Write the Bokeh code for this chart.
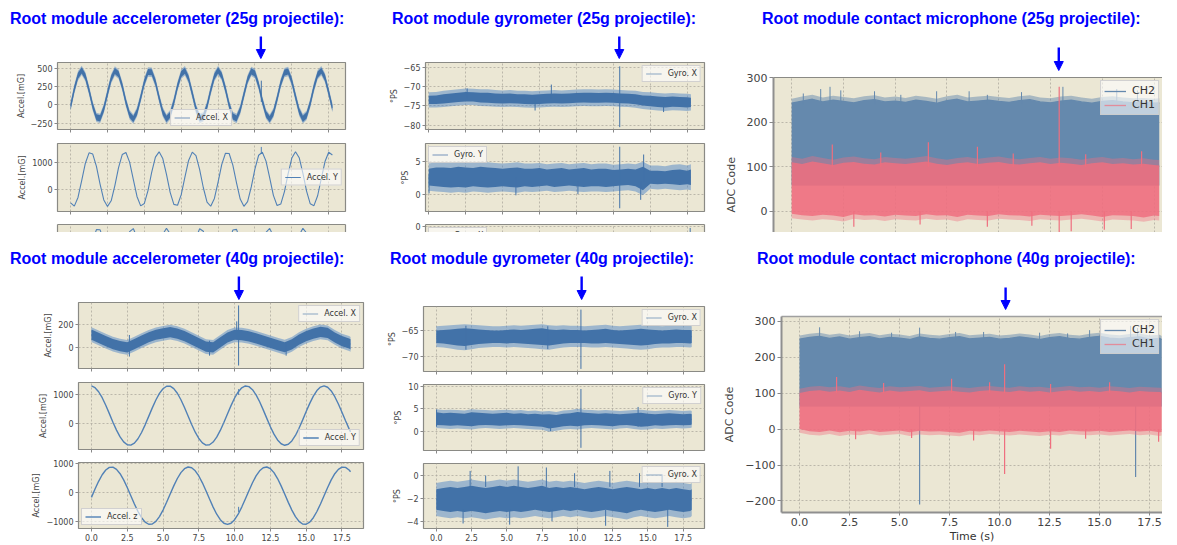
from bokeh.plotting import figure
from bokeh.layouts import row, column
from bokeh.models import (Div, Spacer, Range1d, FixedTicker, LinearAxis, Legend, LegendItem,
                          Arrow, NormalHead, PrintfTickFormatter, CustomJSTickFormatter,
                          CustomLabelingPolicy)
from bokeh.embed import file_html
from bokeh.resources import INLINE

# ---------------------------------------------------------------- data
XT = [0, 2.5, 5, 7.5, 10, 12.5, 15, 17.5]
T25 = [round(0.25 * i, 2) for i in range(72)]            # 0 .. 17.75 s  (25 g run)
T40 = [round(0.25 * i, 2) for i in range(73)] + [18.1]   # 0 .. 18.1 s   (40 g run)
B25 = [0.5 * i for i in range(36)] + [17.75]
B40 = [0.5 * i for i in range(37)] + [18.1]
ARROW_T_25 = 12.9
ARROW_T_40 = 10.3

# accelerometer 25 g
ACC25_X = [-20, 215, 397, 470, 386, 198, -17, -170, -185, -52, 156, 357, 462, 420, 255, 38,
           -135, -195, -98, 97, 309, 448, 445, 309, 96, -98, -192, -135, 39, 256, 421, 465,
           356, 155, -53, -182, -163, -16, 199, 387, 470, 396, 214, -2, -157, -186, -66, 140,
           345, 457, 428, 270, 54, -126, -195, -109, 81, 296, 440, 455, 322, 112, -87, -190,
           -144, 24, 241, 413, 465, 368, 171, -41]
ACC25_X_HALF = 42
ACC25_X_FRINGE = 22
ACC25_X_SPK = ([12.93], [40], [330])
ACC25_Y = [-488, -608, -291, 322, 962, 1343, 1299, 848, 191, -384, -620, -414, 143, 804, 1279, 1355,
           1001, 371, -254, -599, -511, -30, 634, 1184, 1379, 1132, 552, -103, -545, -578, -188, 453,
           1063, 1370, 1239, 729, 64, -461, -614, -327, 272, 919, 1328, 1318, 892, 241, -349, -617,
           -444, 94, 758, 1255, 1365, 1040, 422, -213, -587, -533, -76, 584, 1153, 1380, 1165, 603,
           -57, -525, -592, -229, 403, 1024, 1362, 1265]
ACC25_Y_SPK = ([12.93], [1300], [1560])
ACC25_Z = [238, -419, -942, -1095, -813, -220, 421, 828, 820, 401, -245, -830, -1097, -928, -396, 261,
           754, 866, 546, -65, -695, -1066, -1015, -564, 89, 653, 880, 669, 115, -541, -1004, -1073,
           -716, -91, 526, 861, 767, 285, -371, -913, -1099, -848, -270, 377, 811, 835, 443, -194,
           -794, -1092, -955, -446, 214, 729, 873, 583, -13, -654, -1052, -1035, -608, 38, 620, 878,
           699, 163, -494, -981, -1083, -754, -141, 486]

# gyrometer 25 g
GYR25_X_U = [-72.4, -72.3, -72.0, -71.8, -71.6, -71.4, -71.5, -71.6, -71.6, -71.8, -71.9, -71.8, -72.0,
             -72.0, -72.1, -72.0, -71.9, -71.8, -71.9, -71.8, -71.7, -71.6, -71.6, -71.7, -71.6, -71.7,
             -71.8, -71.9, -72.0, -72.3, -72.4, -72.6, -72.7, -72.6, -72.7, -72.8, -72.9]
GYR25_X_L = [-74.5, -74.5, -74.4, -74.2, -74.0, -73.9, -73.9, -74.1, -74.2, -74.3, -74.4, -74.3, -74.4,
             -74.5, -74.6, -74.5, -74.4, -74.3, -74.4, -74.3, -74.2, -74.1, -74.2, -74.2, -74.1, -74.2,
             -74.3, -74.4, -74.6, -74.9, -75.1, -75.3, -75.4, -75.2, -75.3, -75.4, -75.3]
GYR25_X_FRINGE = 0.9
GYR25_X_SPK = ([12.93, 8.3, 7.2, 15.9, 2.6], [-80.5, -73.0, -76.2, -76.6, -73.0], [-64.8, -69.5, -73.0, -74.5, -70.5])
GYR25_Y_U = [3.9, 4.1, 4.1, 4.0, 4.2, 4.1, 4.0, 4.2, 4.1, 4.0, 3.9, 4.0, 4.1, 3.9, 3.9, 4.0, 3.8, 3.9, 4.0,
             3.8, 3.9, 4.0, 3.8, 3.9, 3.9, 3.7, 3.8, 3.9, 3.8, 4.2, 3.6, 3.6, 3.5, 3.7, 3.8, 3.6, 3.8]
GYR25_Y_L = [1.3, 1.2, 1.1, 1.0, 1.1, 1.0, 1.2, 1.1, 1.0, 1.1, 1.2, 1.1, 1.0, 1.2, 1.1, 1.2, 1.3, 1.1, 1.2,
             1.3, 1.2, 1.1, 1.2, 1.2, 1.1, 1.2, 1.3, 1.4, 1.2, 0.6, 1.6, 1.5, 1.6, 1.5, 1.4, 1.5, 1.4]
GYR25_Y_FRINGE = 0.8
GYR25_Y_SPK = ([12.93, 14.55, 14.35, 0.02, 5.9, 10.1], [-2.2, 2.0, -0.9, 0.1, -0.2, 0.0], [7.3, 6.1, 2.0, 3.0, 2.5, 2.0])
GYR25_Z_U = [-1.1, -1.2, -1.0, -1.1, -1.2, -1.1, -1.0, -1.1, -1.2, -1.1, -1.0, -1.1, -1.2, -1.1, -1.0, -1.1,
             -1.2, -1.1, -1.0, -1.1, -1.2, -1.1, -1.0, -1.1, -1.2, -1.1, -1.0, -1.1, -1.2, -1.1, -1.0, -1.1,
             -1.2, -1.1, -1.0, -1.1, -1.0]
GYR25_Z_L = [-3.0, -3.1, -3.2, -3.1, -3.0, -3.1, -3.2, -3.1, -3.0, -3.1, -3.2, -3.1, -3.0, -3.1, -3.2, -3.1,
             -3.0, -3.1, -3.2, -3.1, -3.0, -3.1, -3.2, -3.1, -3.0, -3.1, -3.2, -3.1, -3.0, -3.1, -3.2, -3.1,
             -3.0, -3.1, -3.2, -3.1, -3.0]
GYR25_Z_SPK = ([17.7], [-1.2], [-0.1])

# contact microphone 25 g
MIC25_CH2_TOP = [243, 248, 252, 246, 250, 247, 244, 249, 251, 246, 248, 245, 250, 247, 243, 249, 252, 246, 248,
                 250, 247, 245, 249, 251, 246, 244, 248, 250, 246, 243, 247, 249, 246, 244, 245, 243, 244]
MIC25_CH2_FLOOR = 58
MIC25_CH1_TOP = [110, 106, 112, 108, 104, 109, 111, 107, 105, 110, 108, 106, 109, 112, 107, 104, 108, 110, 106,
                 109, 111, 107, 105, 108, 110, 106, 109, 107, 104, 108, 110, 106, 108, 105, 107, 104, 103]
MIC25_CH1_BOT = [-6, -9, -11, -8, -10, -13, -7, -10, -9, -12, -8, -10, -11, -7, -10, -9, -13, -8, -10,
                 -11, -7, -9, -10, -12, -8, -10, -11, -9, -7, -10, -13, -9, -10, -11, -14, -10, -11]
MIC25_CH2_UP_T = [0.56, 1.4, 1.85, 2.37, 4.0, 5.27, 7.0, 8.57, 9.45, 11.1, 13.1, 15.7, 16.7]
MIC25_CH2_UP_V = [265, 275, 280, 272, 270, 262, 270, 270, 262, 268, 280, 275, 272]
MIC25_CH1_UP_T = [1.96, 6.6, 8.97, 10.7, 16.9, 4.3, 14.2, 12.92]
MIC25_CH1_UP_V = [150, 155, 145, 130, 135, 132, 128, 280]
MIC25_CH1_DN_T = [13.5, 15.1, 16.4, 9.45, 3.0, 6.2, 11.6, 12.92]
MIC25_CH1_DN_V = [-45, -42, -40, -35, -35, -30, -33, -48]

# accelerometer 40 g
ACC40_X = [113, 85, 55, 30, 12, 0, 30, 60, 90, 112, 125, 135, 122, 100, 70, 38, 8, 0, 45, 88,
           112, 108, 98, 80, 60, 40, 20, 2, 28, 70, 100, 122, 138, 128, 88, 55, 35, 28]
ACC40_X_HALF = 45
ACC40_X_FRINGE = 20
ACC40_X_SPK = ([10.28, 10.15, 2.65, 8.25, 13.6], [-159, 80, -80, -72, -72], [370, 230, 110, 60, 40])
ACC40_Y = [1288, 1229, 1089, 882, 623, 333, 38, -236, -471, -644, -741, -755, -684, -534, -318, -54,
           238, 532, 803, 1030, 1193, 1279, 1280, 1198, 1038, 812, 543, 251, -41, -308, -526, -679,
           -754, -744, -649, -480, -248, 27, 321, 610, 872, 1082, 1225, 1288, 1265, 1160, 981, 742,
           463, 169, -119, -375, -577, -708, -760, -725, -609, -421, -175, 108, 404, 687, 936, 1129,
           1251, 1290, 1244, 1117, 918, 667, 381, 86, -194, -298]
ACC40_Y_SPK = ([10.28], [980], [1180])
ACC40_Z = [-173, 115, 383, 609, 775, 865, 873, 798, 647, 431, 170, -115, -401, -662, -877, -1028,
           -1103, -1095, -1004, -838, -613, -344, -56, 225, 480, 684, 820, 878, 853, 747, 568, 331,
           58, -231, -510, -755, -947, -1068, -1110, -1068, -946, -755, -509, -229, 58, 332, 569, 747,
           853, 878, 820, 683, 478, 225, -57, -346, -613, -839, -1004, -1095, -1103, -1028, -877, -661,
           -400, -115, 171, 433, 647, 798, 873, 865, 774, 716]
ACC40_Z_SPK = ([10.28], [-680], [-500])

# gyrometer 40 g
GYR40_X_U = [-64.9, -64.8, -64.7, -64.6, -64.5, -64.6, -64.7, -64.8, -64.9, -64.9, -64.8, -64.7, -64.8,
             -64.7, -64.6, -64.5, -64.7, -64.8, -64.7, -64.8, -64.8, -64.9, -64.8, -64.7, -64.6, -64.8,
             -64.9, -64.8, -64.7, -64.6, -64.7, -64.8, -64.9, -64.8, -64.7, -64.8, -64.8, -64.9]
GYR40_X_L = [-67.3, -67.4, -67.6, -67.8, -67.9, -67.7, -67.5, -67.4, -67.3, -67.3, -67.4, -67.3, -67.4,
             -67.5, -67.6, -67.7, -67.8, -67.6, -67.4, -67.3, -67.3, -67.3, -67.4, -67.4, -67.3, -67.4,
             -67.5, -67.6, -67.7, -67.8, -67.7, -67.5, -67.4, -67.4, -67.3, -67.3, -67.4, -67.3]
GYR40_X_FRINGE = 0.8
GYR40_X_SPK = ([10.25, 2.1, 7.9], [-72.3, -68.6, -68.5], [-60.9, -64.0, -64.1])
GYR40_Y_U = [4.2, 4.0, 4.1, 4.0, 3.9, 4.2, 4.1, 4.0, 3.9, 4.0, 4.1, 3.9, 4.0, 3.8, 3.9, 3.7, 3.8, 3.6, 3.9,
             4.0, 4.3, 4.1, 4.0, 3.9, 4.0, 3.9, 3.8, 3.9, 4.0, 4.1, 3.9, 3.8, 3.9, 4.0, 3.9, 3.8, 3.9, 3.8]
GYR40_Y_L = [1.4, 1.3, 1.2, 1.3, 1.2, 1.1, 1.3, 1.4, 1.3, 1.2, 1.3, 1.4, 1.3, 1.2, 1.1, 1.0, 0.6, 0.8, 1.1,
             1.2, 1.1, 1.3, 1.4, 1.3, 1.2, 1.1, 1.3, 1.4, 1.2, 1.0, 1.1, 1.3, 1.2, 1.3, 1.4, 1.3, 1.4, 1.5]
GYR40_Y_FRINGE = 0.7
GYR40_Y_SPK = ([10.25, 0.02, 8.1, 14.3], [-3.7, 1.0, 0.0, 1.0], [9.4, 4.8, 2.0, 5.4])
GYR40_Z_U = [-1.2, -1.1, -1.0, -1.1, -1.0, -0.9, -1.0, -1.1, -1.0, -0.9, -1.0, -0.9, -1.0, -1.1, -1.0, -0.9,
             -1.1, -1.0, -1.1, -1.0, -1.1, -1.2, -1.1, -1.0, -1.1, -1.2, -1.1, -1.0, -1.1, -1.2, -1.1, -1.2,
             -1.1, -1.2, -1.1, -1.2, -1.3, -1.2]
GYR40_Z_L = [-3.0, -3.1, -3.2, -3.1, -3.2, -3.1, -3.2, -3.3, -3.2, -3.1, -3.2, -3.1, -3.2, -3.1, -3.0, -3.1,
             -3.2, -3.1, -3.0, -3.1, -3.0, -3.1, -3.2, -3.1, -3.0, -3.1, -3.2, -3.3, -3.1, -3.0, -3.1, -3.2,
             -3.1, -3.0, -3.1, -3.2, -3.1, -3.0]
GYR40_Z_FRINGE = 0.55
GYR40_Z_SPK = ([2.4, 5.8, 7.8, 9.8, 12.3, 14.4, 3.5, 16.0, 1.9, 5.2, 12.0, 16.4, 8.2],
               [-1.0, -1.0, -1.0, -1.0, -1.0, -1.0, -1.0, -1.0, -3.0, -3.0, -3.0, -3.0, -3.0],
               [0.4, 0.8, 0.7, 0.2, 0.4, 0.2, 0.0, 0.1, -4.2, -4.3, -4.4, -4.5, -4.0])

# contact microphone 40 g
MIC40_CH2_TOP = [250, 255, 258, 252, 256, 250, 254, 257, 251, 255, 253, 249, 256, 252, 250, 254, 257, 251, 253,
                 255, 250, 252, 256, 253, 249, 254, 257, 252, 250, 255, 258, 253, 251, 254, 256, 250, 252, 249]
MIC40_CH2_FLOOR = 63
MIC40_CH1_TOP = [100, 106, 108, 104, 107, 103, 109, 105, 102, 107, 104, 106, 108, 103, 105, 107, 104, 102, 106,
                 108, 105, 103, 107, 104, 106, 102, 105, 108, 104, 106, 103, 107, 105, 102, 106, 104, 103, 102]
MIC40_CH1_BOT = [0, -6, -8, -4, -9, -5, -7, -3, -8, -6, -4, -9, -5, -7, -6, -8, -10, -5, -7,
                 -4, -6, -8, -5, -7, -9, -6, -8, -4, -6, -7, -5, -8, -6, -4, -7, -5, -9, -8]
MIC40_CH2_UP_T = [1.0, 3.0, 4.6, 6.0, 7.8, 9.2, 12.0, 13.4, 14.5, 16.55, 16.9]
MIC40_CH2_UP_V = [283, 272, 268, 282, 270, 270, 268, 266, 275, 287, 281]
MIC40_CH2_DN_T = [6.0, 16.8]
MIC40_CH2_DN_V = [-210, -133]
MIC40_CH1_UP_T = [1.85, 7.6, 9.5, 12.55, 15.5, 4.2, 10.25]
MIC40_CH1_UP_V = [145, 140, 130, 125, 130, 128, 180]
MIC40_CH1_DN_T = [10.25, 12.55, 2.8, 8.7, 17.95, 5.6, 14.3]
MIC40_CH1_DN_V = [-125, -55, -28, -32, -35, -25, -27]

# ---------------------------------------------------------------- styles
TB = "#0000ff"
BEIGE = "#ebe7d4"
GRIDC = "#aeaba0"
FRAME = "#8a8a85"
BLUE = "#4272a8"
FRINGE = "#4f86c6"
YLINE = "#5181b6"
MBLUE = "#6589ad"
MRED = "#ef6f7f"
FONT = "DejaVu Sans"
MINUS = CustomJSTickFormatter(code="return tick < 0 ? '\\u2212' + String(-tick) : String(tick);")
NO_LABELS = CustomLabelingPolicy(code="return []")


def fig(w, h, xr, yr, l, r, t, b, xaxis=True, outline=True):
    p = figure(width=w, height=h, x_range=xr, y_range=Range1d(*yr),
               output_backend="svg", toolbar_location=None,
               x_axis_location=("below" if xaxis else None),
               min_border_left=l, min_border_right=r, min_border_top=t, min_border_bottom=b,
               background_fill_color=BEIGE, border_fill_color="white")
    p.outline_line_color = FRAME if outline else None
    p.outline_line_width = 1.2
    p.xgrid.ticker = FixedTicker(ticks=XT)
    for g in (p.xgrid, p.ygrid):
        g.grid_line_color = GRIDC
        g.grid_line_dash = "2 2"
        g.grid_line_width = 0.8
    return p


def header(w, h, xr, l, r, x, tail_px, tip_px):
    """White strip above a panel holding the impact arrow, on the panel's own time scale."""
    p = figure(width=w, height=h, x_range=xr, y_range=Range1d(0, h),
               output_backend="svg", toolbar_location=None,
               x_axis_location=None, y_axis_location=None,
               min_border_left=l, min_border_right=r, min_border_top=0, min_border_bottom=0,
               background_fill_color="white", border_fill_color="white")
    p.outline_line_color = None
    p.grid.visible = False
    p.add_layout(Arrow(end=NormalHead(size=9, fill_color=TB, line_color=TB, line_width=1),
                       x_start=x, y_start=h - tail_px, x_end=x, y_end=h - tip_px,
                       line_color=TB, line_width=2.4))
    return p


def yax(p, ticks, label=None, size="8px", line=False):
    ax = p.yaxis[0]
    ax.ticker = FixedTicker(ticks=ticks)
    ax.formatter = MINUS
    p.ygrid.ticker = FixedTicker(ticks=ticks)
    ax.axis_line_color = FRAME if line else None
    ax.axis_line_width = 1.6
    ax.major_tick_line_color = "#888888"
    ax.major_tick_out = 3
    ax.major_tick_in = 0
    ax.minor_tick_line_color = None
    ax.major_label_text_font = FONT
    ax.major_label_text_font_size = size
    ax.major_label_text_color = "#444444"
    ax.major_label_standoff = 2
    if label:
        ax.axis_label = label
        ax.axis_label_text_font = FONT
        ax.axis_label_text_font_size = size
        ax.axis_label_text_font_style = "normal"
        ax.axis_label_text_color = "#444444"
        ax.axis_label_standoff = 2


def xax(p, labels=False, size="8px", label=None, line=False):
    ax = p.xaxis[0]
    ax.ticker = FixedTicker(ticks=XT)
    ax.axis_line_color = FRAME if line else None
    ax.axis_line_width = 1.6
    ax.major_tick_line_color = "#888888"
    ax.major_tick_out = 3
    ax.major_tick_in = 0
    ax.minor_tick_line_color = None
    if labels:
        ax.formatter = PrintfTickFormatter(format="%.1f")
        ax.major_label_text_font = FONT
        ax.major_label_text_font_size = size
        ax.major_label_text_color = "#444444"
        ax.major_label_standoff = 2
    else:
        ax.major_label_policy = NO_LABELS
        ax.major_label_text_font_size = "0px"
        ax.major_label_standoff = 0
    if label:
        ax.axis_label = label
        ax.axis_label_text_font = FONT
        ax.axis_label_text_font_size = size
        ax.axis_label_text_font_style = "normal"
        ax.axis_label_text_color = "#333333"
        ax.axis_label_standoff = 1


def spine(p, place, color=FRAME, width=1.2):
    ax = LinearAxis(ticker=FixedTicker(ticks=[]), axis_line_color=color, axis_line_width=width,
                    major_tick_line_color=None, minor_tick_line_color=None, major_tick_out=0,
                    major_tick_in=0, major_label_text_font_size="0px", major_label_standoff=0)
    p.add_layout(ax, place)


def legend(p, items, loc, size="8px", gw=16, lh=9):
    lg = Legend(items=[LegendItem(label=lab, renderers=[r]) for lab, r in items], location=loc)
    lg.label_text_font = FONT
    lg.label_text_font_size = size
    lg.label_text_color = "#333333"
    lg.background_fill_color = "white"
    lg.background_fill_alpha = 0.6
    lg.border_line_color = "#cccccc"
    lg.border_line_alpha = 0.9
    lg.padding = 3
    lg.margin = 3
    lg.spacing = 1
    lg.glyph_width = gw
    lg.glyph_height = lh
    lg.label_height = lh
    lg.label_standoff = 6
    p.add_layout(lg)


def band(p, x, lo, hi, fringe):
    p.varea(x=x, y1=[v - fringe for v in lo], y2=[v + fringe for v in hi],
            fill_color=FRINGE, fill_alpha=0.5)
    p.varea(x=x, y1=lo, y2=hi, fill_color=BLUE, fill_alpha=1.0)


def noisy(p, x, lo, hi, fringe, spk):
    mid = [(a + b) / 2 for a, b in zip(lo, hi)]
    r = p.line(x, mid, line_color=BLUE, line_width=1.2, line_alpha=0.6)
    band(p, x, lo, hi, fringe)
    p.segment(x0=spk[0], y0=spk[1], x1=spk[0], y1=spk[2], line_color=BLUE, line_width=1.0)
    return r


def title_div(text, w, pad):
    html = ('<div style="font-family:\'Liberation Sans\',Arial,sans-serif;font-size:16px;'
            'font-weight:bold;color:%s;line-height:22px;white-space:nowrap;padding-left:%dpx">%s</div>'
            % (TB, pad, text))
    return Div(text=html, width=w, height=22, margin=(0, 0, 0, 0))


# ---------------------------------------------------------------- top row (25 g)
XR25A = Range1d(-0.89, 18.64)
XR25G = Range1d(-0.22, 18.67)
XR25M = Range1d(-0.88, 17.91)
MIC_W = 442

hAX25 = header(380, 29, XR25A, 57, 35, ARROW_T_25, 6, 28)
fAX25 = fig(380, 77, XR25A, (-336, 578), 57, 35, 3, 7)
c = fAX25.line(T25, ACC25_X, line_color=BLUE, line_width=1.2, line_alpha=0.6)
band(fAX25, T25, [v - ACC25_X_HALF for v in ACC25_X], [v + ACC25_X_HALF for v in ACC25_X], ACC25_X_FRINGE)
fAX25.segment(x0=ACC25_X_SPK[0], y0=ACC25_X_SPK[1], x1=ACC25_X_SPK[0], y1=ACC25_X_SPK[2], line_color=BLUE)
yax(fAX25, [-250, 0, 250, 500], "Accel.[mG]")
xax(fAX25)
legend(fAX25, [("Accel. X", c)], "bottom_center")

fAY25 = fig(380, 81, XR25A, (-806, 1685), 57, 35, 7, 6)
c = fAY25.line(T25, ACC25_Y, line_color=YLINE, line_width=1.1)
fAY25.segment(x0=ACC25_Y_SPK[0], y0=ACC25_Y_SPK[1], x1=ACC25_Y_SPK[0], y1=ACC25_Y_SPK[2], line_color=YLINE)
yax(fAY25, [0, 1000], "Accel.[mG]")
xax(fAY25)
legend(fAY25, [("Accel. Y", c)], "center_right")

fAZ25 = fig(380, 15, XR25A, (722, 1015), 57, 35, 7, 0, xaxis=False, outline=False)
fAZ25.line(T25, ACC25_Z, line_color=YLINE, line_width=1.1)
yax(fAZ25, [], None, line=True)
fAZ25.yaxis[0].axis_line_width = 1.2
spine(fAZ25, "above")
spine(fAZ25, "right")

hGX25 = header(340, 29, XR25G, 45, 16, ARROW_T_25, 6, 28)
fGX25 = fig(340, 77, XR25G, (-81.1, -63.8), 45, 16, 3, 7)
c = noisy(fGX25, B25, GYR25_X_L, GYR25_X_U, GYR25_X_FRINGE, GYR25_X_SPK)
yax(fGX25, [-80, -75, -70, -65], "°PS")
xax(fGX25)
legend(fGX25, [("Gyro. X", c)], "top_right")

fGY25 = fig(340, 81, XR25G, (-2.7, 7.8), 45, 16, 7, 6)
c = noisy(fGY25, B25, GYR25_Y_L, GYR25_Y_U, GYR25_Y_FRINGE, GYR25_Y_SPK)
yax(fGY25, [0, 5], "°PS")
xax(fGY25)
legend(fGY25, [("Gyro. Y", c)], "top_left")

fGZ25 = fig(340, 15, XR25G, (-0.5, 0.2), 45, 16, 7, 0, xaxis=False, outline=False)
c = noisy(fGZ25, B25, GYR25_Z_L, GYR25_Z_U, 0.5, GYR25_Z_SPK)
yax(fGZ25, [0], None, line=True)
fGZ25.yaxis[0].axis_line_width = 1.2
spine(fGZ25, "above")
spine(fGZ25, "right")
legend(fGZ25, [("Gyro. X", c)], "top_left")

hM25 = header(MIC_W, 42, XR25M, 53, 0, ARROW_T_25, 17, 40)
fM25 = fig(MIC_W, 160, XR25M, (-48, 301), 53, 0, 5, 0, xaxis=False, outline=False)
c2 = fM25.line(B25, MIC25_CH2_TOP, line_color=MBLUE, line_width=1.3)
c1 = fM25.line(B25, MIC25_CH1_TOP, line_color=MRED, line_width=1.3, line_alpha=0.7)
fM25.varea(x=B25, y1=MIC25_CH2_FLOOR, y2=[v + 10 for v in MIC25_CH2_TOP], fill_color=MBLUE, fill_alpha=0.5)
fM25.varea(x=B25, y1=MIC25_CH2_FLOOR, y2=MIC25_CH2_TOP, fill_color=MBLUE, fill_alpha=1.0)
fM25.segment(x0=MIC25_CH2_UP_T, y0=240, x1=MIC25_CH2_UP_T, y1=MIC25_CH2_UP_V, line_color=MBLUE, line_width=1)
fM25.varea(x=B25, y1=[v - 10 for v in MIC25_CH1_BOT], y2=[v + 12 for v in MIC25_CH1_TOP], fill_color=MRED, fill_alpha=0.4)
fM25.varea(x=B25, y1=MIC25_CH1_BOT, y2=MIC25_CH1_TOP, fill_color=MRED, fill_alpha=0.85)
fM25.segment(x0=MIC25_CH1_UP_T, y0=100, x1=MIC25_CH1_UP_T, y1=MIC25_CH1_UP_V, line_color=MRED, line_width=1.2)
fM25.segment(x0=MIC25_CH1_DN_T, y0=0, x1=MIC25_CH1_DN_T, y1=MIC25_CH1_DN_V, line_color=MRED, line_width=1.2)
# the reference panel is cut off below; its label sits centred on the full (uncut) axis
yax(fM25, [0, 100, 200, 300], "ADC Code" + "\u00a0" * 17, size="11px", line=True)
fM25.yaxis[0].axis_line_color = "#8f8f8f"
fM25.yaxis[0].axis_line_width = 2
fM25.yaxis[0].major_tick_out = 4
fM25.yaxis[0].axis_label_standoff = 6
spine(fM25, "above")
legend(fM25, [("CH2", c2), ("CH1", c1)], "top_right", size="11px", gw=22, lh=12)

# ---------------------------------------------------------------- bottom row (40 g)
XR40A = Range1d(-0.905, 19.005)
XR40G = Range1d(-0.905, 19.005)
XR40M = Range1d(-0.905, 18.145)

hAX40 = header(380, 30, XR40A, 78, 17, ARROW_T_40, 6, 29)
fAX40 = fig(380, 75, XR40A, (-185, 396), 78, 17, 2, 7)
c = fAX40.line(B40, ACC40_X, line_color=BLUE, line_width=1.2, line_alpha=0.6)
band(fAX40, B40, [v - ACC40_X_HALF for v in ACC40_X], [v + ACC40_X_HALF for v in ACC40_X], ACC40_X_FRINGE)
fAX40.segment(x0=ACC40_X_SPK[0], y0=ACC40_X_SPK[1], x1=ACC40_X_SPK[0], y1=ACC40_X_SPK[2], line_color=BLUE)
yax(fAX40, [0, 200], "Accel.[mG]")
xax(fAX40)
legend(fAX40, [("Accel. X", c)], "top_right")

fAY40 = fig(380, 80, XR40A, (-906, 1408), 78, 17, 7, 6)
c = fAY40.line(T40, ACC40_Y, line_color=YLINE, line_width=1.4)
fAY40.segment(x0=ACC40_Y_SPK[0], y0=ACC40_Y_SPK[1], x1=ACC40_Y_SPK[0], y1=ACC40_Y_SPK[2], line_color=YLINE)
yax(fAY40, [0, 1000], "Accel.[mG]")
xax(fAY40)
legend(fAY40, [("Accel. Y", c)], "bottom_right")

fAZ40 = fig(380, 90, XR40A, (-1250, 1034), 78, 17, 7, 17)
c = fAZ40.line(T40, ACC40_Z, line_color=YLINE, line_width=1.4)
fAZ40.segment(x0=ACC40_Z_SPK[0], y0=ACC40_Z_SPK[1], x1=ACC40_Z_SPK[0], y1=ACC40_Z_SPK[2], line_color=YLINE)
yax(fAZ40, [-1000, 0, 1000], "Accel.[mG]")
xax(fAZ40, labels=True)
legend(fAZ40, [("Accel. z", c)], "bottom_left")

hGX40 = header(340, 33, XR40G, 43, 16, ARROW_T_40, 6, 29)
fGX40 = fig(340, 74, XR40G, (-72.8, -60.3), 43, 16, 3, 6)
c = noisy(fGX40, B40, GYR40_X_L, GYR40_X_U, GYR40_X_FRINGE, GYR40_X_SPK)
yax(fGX40, [-70, -65], "°PS")
xax(fGX40)
legend(fGX40, [("Gyro. X", c)], "top_right")

fGY40 = fig(340, 79, XR40G, (-4.3, 10.4), 43, 16, 7, 6)
c = noisy(fGY40, B40, GYR40_Y_L, GYR40_Y_U, GYR40_Y_FRINGE, GYR40_Y_SPK)
yax(fGY40, [0, 5, 10], "°PS")
xax(fGY40)
legend(fGY40, [("Gyro. Y", c)], "top_right")

fGZ40 = fig(340, 89, XR40G, (-4.64, 1.05), 43, 16, 7, 17)
c = noisy(fGZ40, B40, GYR40_Z_L, GYR40_Z_U, GYR40_Z_FRINGE, GYR40_Z_SPK)
yax(fGZ40, [-4, -2, 0], "°PS")
xax(fGZ40, labels=True)
legend(fGZ40, [("Gyro. X", c)], "top_right")

hM40 = header(MIC_W, 42, XR40M, 61, 0, ARROW_T_40, 17, 39)
fM40 = fig(MIC_W, 233, XR40M, (-232, 313), 61, 0, 4, 31, outline=False)
c2 = fM40.line(B40, MIC40_CH2_TOP, line_color=MBLUE, line_width=1.3)
c1 = fM40.line(B40, MIC40_CH1_TOP, line_color=MRED, line_width=1.3, line_alpha=0.7)
fM40.segment(x0=MIC40_CH2_DN_T, y0=100, x1=MIC40_CH2_DN_T, y1=MIC40_CH2_DN_V, line_color=MBLUE, line_width=1.2)
fM40.varea(x=B40, y1=MIC40_CH2_FLOOR, y2=[v + 10 for v in MIC40_CH2_TOP], fill_color=MBLUE, fill_alpha=0.5)
fM40.varea(x=B40, y1=MIC40_CH2_FLOOR, y2=MIC40_CH2_TOP, fill_color=MBLUE, fill_alpha=1.0)
fM40.segment(x0=MIC40_CH2_UP_T, y0=245, x1=MIC40_CH2_UP_T, y1=MIC40_CH2_UP_V, line_color=MBLUE, line_width=1)
fM40.varea(x=B40, y1=[v - 10 for v in MIC40_CH1_BOT], y2=[v + 12 for v in MIC40_CH1_TOP], fill_color=MRED, fill_alpha=0.4)
fM40.varea(x=B40, y1=MIC40_CH1_BOT, y2=MIC40_CH1_TOP, fill_color=MRED, fill_alpha=0.85)
fM40.segment(x0=MIC40_CH1_UP_T, y0=100, x1=MIC40_CH1_UP_T, y1=MIC40_CH1_UP_V, line_color=MRED, line_width=1.2)
fM40.segment(x0=MIC40_CH1_DN_T, y0=0, x1=MIC40_CH1_DN_T, y1=MIC40_CH1_DN_V, line_color=MRED, line_width=1.2)
yax(fM40, [-200, -100, 0, 100, 200, 300], "ADC Code", size="11px", line=True)
fM40.yaxis[0].axis_line_color = "#8f8f8f"
fM40.yaxis[0].axis_line_width = 2
fM40.yaxis[0].major_tick_out = 4
fM40.yaxis[0].axis_label_standoff = 6
xax(fM40, labels=True, size="11px", label="Time (s)", line=True)
fM40.xaxis[0].axis_line_color = "#8f8f8f"
fM40.xaxis[0].axis_line_width = 2
spine(fM40, "above", color="#a0a0a0", width=1.5)
legend(fM40, [("CH2", c2), ("CH1", c1)], "top_right", size="11px", gw=22, lh=12)

# ---------------------------------------------------------------- layout
top = row(
    column(Spacer(width=380, height=8), title_div("Root module accelerometer (25g projectile):", 380, 10),
           hAX25, fAX25, fAY25, fAZ25),
    column(Spacer(width=340, height=8), title_div("Root module gyrometer (25g projectile):", 340, 12),
           hGX25, fGX25, fGY25, fGZ25),
    column(Spacer(width=MIC_W, height=8), title_div("Root module contact microphone (25g projectile):", MIC_W, 42),
           hM25, fM25),
)
bottom = row(
    column(Spacer(width=380, height=16), title_div("Root module accelerometer (40g projectile):", 380, 10),
           hAX40, fAX40, fAY40, fAZ40),
    column(Spacer(width=340, height=16), title_div("Root module gyrometer (40g projectile):", 340, 10),
           hGX40, fGX40, fGY40, fGZ40),
    column(Spacer(width=MIC_W, height=16), title_div("Root module contact microphone (40g projectile):", MIC_W, 37),
           hM40, fM40),
)
page = column(top, bottom)

open("out.html", "w", encoding="utf-8").write(file_html(page, INLINE))
